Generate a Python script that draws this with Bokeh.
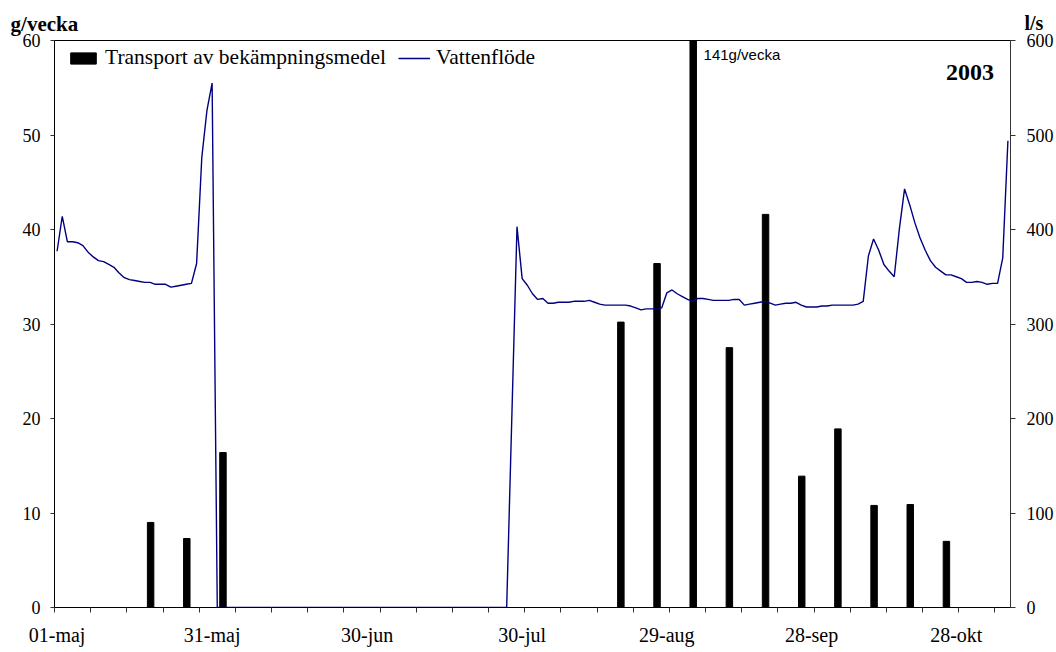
from bokeh.plotting import figure
from bokeh.models import (Range1d, LinearAxis, FixedTicker, Legend, LegendItem,
                          Label, ColumnDataSource)
from bokeh.embed import file_html
from bokeh.resources import INLINE

# ---- data (x in day-category units from 01-maj) ----
x_label_pos = [0.5, 30.5, 60.5, 90.5, 118.5, 146.5, 174.5]
x_labels = ["01-maj", "31-maj", "30-jun", "30-jul", "29-aug", "28-sep", "28-okt"]
week_ticks = list(range(0, 183, 7))

# weekly transport of pesticides (g/vecka)
bar_x = [18.6, 25.6, 32.6, 109.6, 116.6, 123.6, 130.6, 137.6, 144.6, 151.6, 158.6, 165.6, 172.6]
bar_g = [9.0, 7.3, 16.4, 30.2, 36.4, 141.0, 27.5, 41.6, 13.9, 18.9, 10.8, 10.9, 7.0]

# daily water flow (l/s)
flow_may = [377, 414, 387, 387, 386, 383, 376, 371, 367, 366, 363, 360, 354, 349, 347,
            346, 345, 344, 344, 342, 342, 342, 339, 340, 341, 342, 343, 364, 476, 526, 555]
flow_gap = [0] * 57
flow_aug_okt = [403, 348, 341, 332, 326, 327, 322, 322, 323, 323, 323, 324, 324, 324, 325,
                323, 321, 320, 320, 320, 320, 320, 319, 317, 315, 316, 316, 316, 317, 333,
                336, 332, 329, 326, 324, 327, 327, 326, 325, 325, 325, 325, 326, 326, 320,
                321, 322, 323, 324, 322, 320, 321, 322, 322, 323, 320, 318, 318, 318, 319,
                319, 320, 320, 320, 320, 320, 321, 324, 372, 390, 378, 363, 356, 350, 401,
                443, 426, 407, 391, 378, 367, 360, 356, 352, 352, 350, 348, 344, 344, 345,
                344, 342, 343, 343, 370, 494]
flow_days = list(range(0, 88)) + list(range(89, 185))
flow_ls = flow_may + flow_gap + flow_aug_okt

SERIF = "Liberation Serif"

p = figure(width=1056, height=652, output_backend="svg", toolbar_location=None,
           x_range=Range1d(0, 185), y_range=Range1d(0, 60),
           min_border_left=53, min_border_right=44, min_border_top=40, min_border_bottom=45)
p.extra_y_ranges = {"flow": Range1d(0, 600)}
p.background_fill_color = "white"
p.border_fill_color = "white"
p.outline_line_color = "black"
p.outline_line_width = 1
p.xgrid.visible = False
p.ygrid.visible = False

bars = p.vbar(x=bar_x, top=bar_g, width=1.25, bottom=0,
              fill_color="black", line_color="black")
src = ColumnDataSource(dict(x=[d + 0.5 for d in flow_days], y=flow_ls))
line = p.line("x", "y", source=src, y_range_name="flow", line_color="#000080", line_width=1.4)

# x axis
xa = p.xaxis[0]
xa.ticker = FixedTicker(ticks=x_label_pos, minor_ticks=week_ticks)
xa.major_label_overrides = {pos: lab for pos, lab in zip(x_label_pos, x_labels)}
xa.major_tick_out = 0
xa.major_tick_in = 0
xa.minor_tick_out = 5
xa.minor_tick_in = 0
xa.minor_tick_line_color = "#333333"
xa.axis_line_color = "black"
xa.major_label_text_font = SERIF
xa.major_label_text_font_size = "20px"
xa.major_label_text_color = "black"
xa.major_label_standoff = 11

# left axis
ya = p.yaxis[0]
ya.ticker = FixedTicker(ticks=[0, 10, 20, 30, 40, 50, 60])
ya.major_tick_out = 4
ya.major_tick_in = 0
ya.minor_tick_out = 0
ya.minor_tick_in = 0
ya.major_tick_line_color = "#333333"
ya.axis_line_color = "black"
ya.major_label_text_font = SERIF
ya.major_label_text_font_size = "18px"
ya.major_label_text_color = "black"
ya.major_label_standoff = 10

# right axis
ra = LinearAxis(y_range_name="flow", ticker=FixedTicker(ticks=[0, 100, 200, 300, 400, 500, 600]))
ra.major_tick_out = 5
ra.major_tick_in = 0
ra.minor_tick_out = 0
ra.minor_tick_in = 0
ra.major_tick_line_color = "#333333"
ra.axis_line_color = "#333333"
ra.major_label_text_font = SERIF
ra.major_label_text_font_size = "18px"
ra.major_label_text_color = "black"
ra.major_label_standoff = 11
p.add_layout(ra, "right")

# legend
legend = Legend(items=[LegendItem(label="Transport av bekämpningsmedel", renderers=[bars]),
                       LegendItem(label="Vattenflöde", renderers=[line])],
                orientation="horizontal", location=(13, 537),
                margin=0, padding=0, spacing=12, label_standoff=6,
                glyph_width=32, glyph_height=14, label_height=14,
                label_text_font=SERIF, label_text_font_size="21.5px", label_text_color="black",
                border_line_color=None, background_fill_alpha=0)
p.add_layout(legend, "center")

# unit labels outside the frame (placed in side panels so they are not clipped)
p.add_layout(Label(x=-8.5, y=61.7, text="g/vecka", text_font=SERIF, text_font_style="bold",
                   text_font_size="21px", text_baseline="alphabetic", text_color="black"),
             "above")
p.add_layout(Label(x=187.7, y=61.9, text="l/s", text_font=SERIF, text_font_style="bold",
                   text_font_size="20px", text_baseline="alphabetic", text_color="black"),
             "left")

# texts in the plot area
p.add_layout(Label(x=172.5, y=56.6, text="2003", text_font=SERIF, text_font_style="bold",
                   text_font_size="24px", text_baseline="alphabetic", text_color="black"))
p.add_layout(Label(x=bar_x[5] + 2.0, y=58.5, text="141g/vecka", text_font="Liberation Sans",
                   text_font_size="15px", text_baseline="alphabetic", text_color="black"))

open("out.html", "w").write(file_html(p, INLINE))
